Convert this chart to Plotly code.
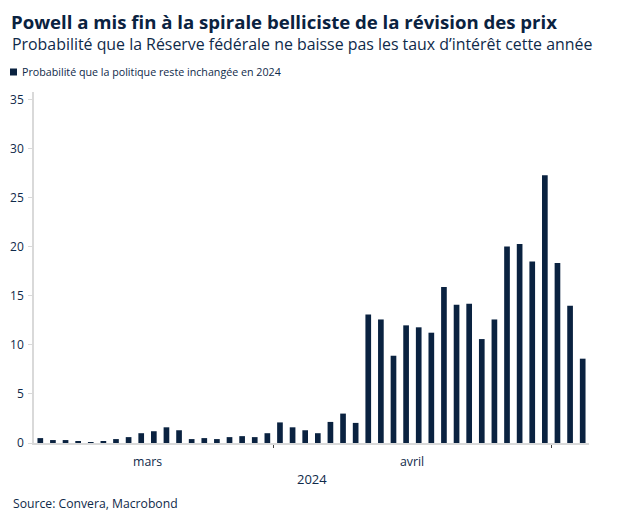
import plotly.graph_objects as go

# ---- data ----
dates = [
    "2024-03-04", "2024-03-05", "2024-03-06", "2024-03-07", "2024-03-08",
    "2024-03-11", "2024-03-12", "2024-03-13", "2024-03-14", "2024-03-15",
    "2024-03-18", "2024-03-19", "2024-03-20", "2024-03-21", "2024-03-22",
    "2024-03-25", "2024-03-26", "2024-03-27", "2024-03-28",
    "2024-04-01", "2024-04-02", "2024-04-03", "2024-04-04", "2024-04-05",
    "2024-04-08", "2024-04-09", "2024-04-10", "2024-04-11", "2024-04-12",
    "2024-04-15", "2024-04-16", "2024-04-17", "2024-04-18", "2024-04-19",
    "2024-04-22", "2024-04-23", "2024-04-24", "2024-04-25", "2024-04-26",
    "2024-04-29", "2024-04-30",
    "2024-05-01", "2024-05-02", "2024-05-03",
]
probabilite = [
    0.5, 0.3, 0.3, 0.2, 0.1, 0.2, 0.4, 0.6, 1.0, 1.2,
    1.6, 1.3, 0.4, 0.5, 0.4, 0.6, 0.7, 0.6, 1.0,
    2.1, 1.6, 1.3, 1.0, 2.15, 3.0, 2.05, 13.1, 12.6, 8.9,
    12.0, 11.8, 11.25, 15.9, 14.1, 14.2, 10.6, 12.6, 20.05, 20.3,
    18.5, 27.3,
    18.35, 14.0, 8.6,
]
month_names = {"03": "mars", "04": "avril"}
year_label = "2024"
series_name = "Probabilité que la politique reste inchangée en 2024"
title = "Powell a mis fin à la spirale belliciste de la révision des prix"
subtitle = "Probabilité que la Réserve fédérale ne baisse pas les taux d’intérêt cette année"
source = "Source: Convera, Macrobond"
yticks = [0, 5, 10, 15, 20, 25, 30, 35]

NAVY = "#0a2240"
TXT = "#0f2a4a"
GREY = "#d9d9d9"
FONT = "Open Sans"

x = list(range(len(dates)))

# month boundaries (between last day of one month and first of next)
months = [d[5:7] for d in dates]
boundaries = [i - 0.5 for i in range(1, len(dates)) if months[i] != months[i - 1]]

fig = go.Figure()
fig.add_trace(go.Bar(
    x=x, y=probabilite, name=series_name,
    marker=dict(color=NAVY, line=dict(width=0)),
    width=0.45, customdata=dates,
    hovertemplate="%{customdata}: %{y:.1f}<extra></extra>",
))

OFF = 8  # page body margin
W, H = 635 - OFF, 518 - OFF
L, R, T, B = 34 - OFF, 46, 92 - OFF, 75
pw = W - L - R
ph = H - T - B

def px_x(p):
    return (p - OFF - L) / pw

def px_y(p):
    return 1 - (p - OFF - T) / ph

annotations = []
annotations.append(dict(text=f"<b>{title}</b>", x=px_x(10), y=px_y(8), xref="paper", yref="paper",
                        xanchor="left", yanchor="top", showarrow=False, borderpad=0,
                        font=dict(family=FONT, size=18.6, color=NAVY)))
annotations.append(dict(text=subtitle, x=px_x(10), y=px_y(44), xref="paper", yref="paper",
                        xanchor="left", yanchor="middle", showarrow=False,
                        font=dict(family=FONT, size=15.9, color=TXT)))
annotations.append(dict(text=series_name, x=px_x(20), y=px_y(72), xref="paper", yref="paper",
                        xanchor="left", yanchor="middle", showarrow=False,
                        font=dict(family=FONT, size=10.7, color=TXT)))
annotations.append(dict(text=source, x=px_x(11), y=px_y(503), xref="paper", yref="paper",
                        xanchor="left", yanchor="middle", showarrow=False,
                        font=dict(family=FONT, size=12.2, color=TXT)))

# month labels: centered in each month's period (March period includes one day before data start)
edges = [-1.5] + boundaries + [len(dates) - 0.5 + 2]
labelled = [m for i, m in enumerate(months) if i == 0 or months[i] != months[i - 1]]
for k, m in enumerate(labelled):
    if m in month_names:
        c = (edges[k] + edges[k + 1]) / 2
        annotations.append(dict(text=month_names[m], x=c, y=px_y(461), xref="x", yref="paper",
                                xanchor="center", yanchor="middle", showarrow=False,
                                font=dict(family=FONT, size=12.3, color=TXT)))
annotations.append(dict(text=year_label, x=(len(dates) - 1) / 2, y=px_y(479), xref="x", yref="paper",
                        xanchor="center", yanchor="middle", showarrow=False,
                        font=dict(family=FONT, size=13, color=TXT)))

shapes = [
    dict(type="rect", xref="paper", yref="paper",
         x0=px_x(10), x1=px_x(17), y0=px_y(68.5), y1=px_y(75.5),
         fillcolor=NAVY, line=dict(width=0)),
]

fig.update_layout(
    width=W, height=H,
    margin=dict(l=L, r=R, t=T, b=B, pad=0, autoexpand=False),
    paper_bgcolor="white", plot_bgcolor="white",
    showlegend=False,
    annotations=annotations, shapes=shapes,
    font=dict(family=FONT, color=TXT),
)
fig.update_xaxes(
    range=[-0.5, len(dates) - 0.5], automargin=False,
    tickvals=boundaries, ticktext=["" for _ in boundaries],
    ticks="outside", ticklen=3, tickwidth=1, tickcolor="#444",
    showline=True, linecolor=GREY, linewidth=1.5,
    showgrid=False, zeroline=False, fixedrange=True,
)
fig.update_yaxes(
    range=[0, 35.8], automargin=False,
    tickvals=yticks, ticks="outside", ticklen=4, tickcolor=GREY,
    tickfont=dict(family=FONT, size=12, color=TXT),
    showline=True, linecolor=GREY, linewidth=1.5,
    showgrid=False, zeroline=False, ticklabelstandoff=2,
)

fig.write_html("out.html")
